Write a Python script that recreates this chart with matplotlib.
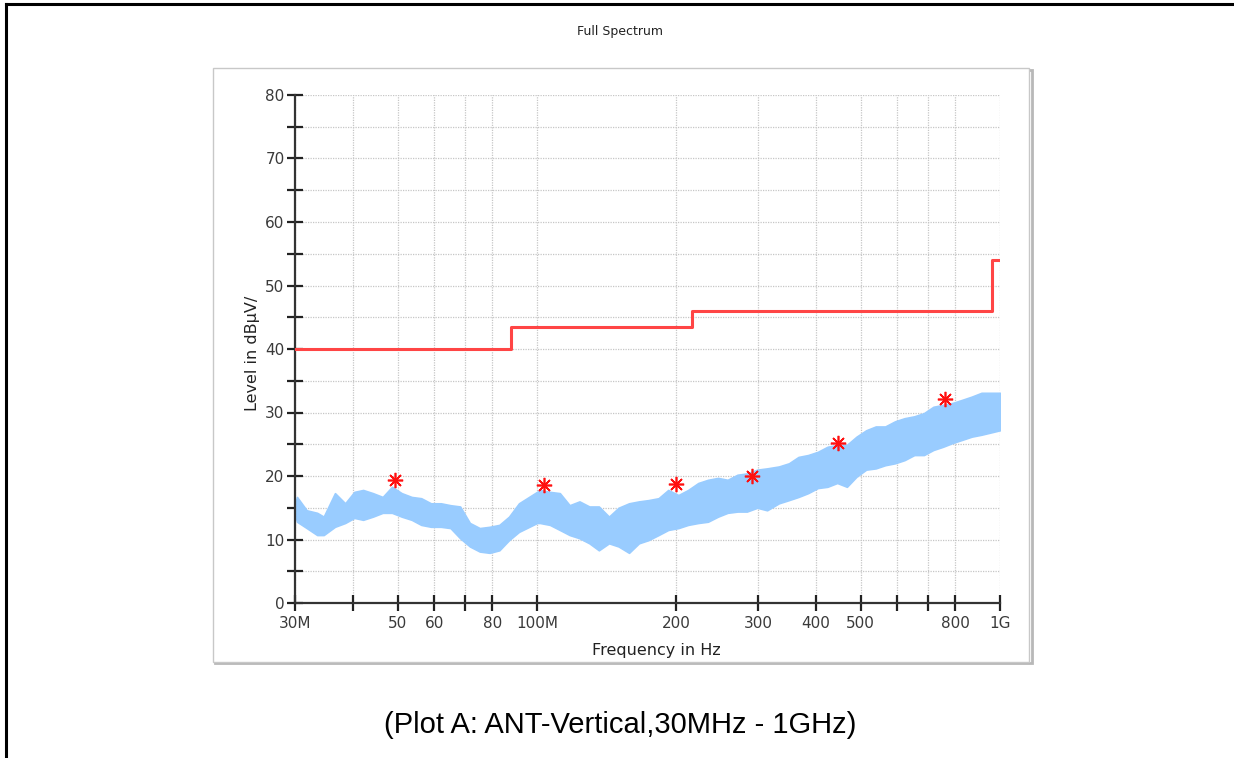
import matplotlib
matplotlib.use("Agg")
import matplotlib.pyplot as plt
from matplotlib.patches import Rectangle
from matplotlib.lines import Line2D
from matplotlib.ticker import FixedLocator, FixedFormatter, NullFormatter

# ---- data ----
freq_mhz = [30, 30.3, 31.8, 33.5, 34.6, 36.6, 38.5, 40.3, 42.1, 44.2, 46.4, 48.6, 51, 53.6,
            56.2, 59, 62, 65, 68.2, 71.6, 75.2, 79, 82.9, 87, 91.4, 100, 101.5, 106.6, 112,
            117.6, 123.5, 129.7, 136, 143, 150, 158, 166, 174, 183, 192, 202, 212, 223, 234,
            246, 258, 271, 284, 299, 314, 333, 350, 367, 385, 404, 424, 445, 467, 490, 514,
            539, 565, 593, 622, 653, 685, 718, 753, 790, 829, 869, 912, 1000]
upper_db = [15.5, 16.7, 14.6, 14.2, 13.6, 17.3, 15.7, 17.5, 17.8, 17.3, 16.7, 18.3, 17.3, 16.7,
            16.5, 15.7, 15.7, 15.4, 15.2, 12.6, 11.8, 12.0, 12.3, 13.6, 15.7, 17.5, 17.8, 17.5, 17.3,
            15.4, 16.0, 15.2, 15.2, 13.6, 15.0, 15.7, 16.0, 16.2, 16.5, 17.8, 17.0, 17.8, 18.9, 19.4,
            19.7, 19.4, 20.2, 20.4, 21.0, 21.2, 21.5, 22.0, 23.0, 23.3, 23.8, 24.6, 24.9, 24.9, 26.2, 27.2,
            27.8, 27.8, 28.6, 29.1, 29.4, 29.9, 30.9, 31.2, 31.5, 32.0, 32.5, 33.1, 33.1]
lower_db = [14.0, 12.8, 11.8, 10.7, 10.7, 12.0, 12.6, 13.4, 13.1, 13.6, 14.2, 14.2, 13.6, 13.1,
            12.3, 12.0, 12.0, 11.8, 10.2, 8.9, 8.1, 7.9, 8.3, 9.9, 11.2, 12.6, 12.6, 12.3, 11.5,
            10.7, 10.2, 9.4, 8.3, 9.4, 8.9, 7.9, 9.4, 9.9, 10.7, 11.5, 11.8, 12.3, 12.6, 12.8,
            13.6, 14.2, 14.4, 14.4, 15.0, 14.6, 15.7, 16.2, 16.7, 17.3, 18.1, 18.3, 18.9, 18.3, 19.9, 21.0,
            21.2, 21.7, 22.0, 22.5, 23.3, 23.3, 24.1, 24.6, 25.2, 25.7, 26.2, 26.5, 27.2]

limit_freq = [30, 88, 216, 960, 1000]
limit_db = [40, 43.5, 46, 54, 54]

peak_freq = [49.3, 103.6, 199.3, 291, 447, 762]
peak_db = [19.4, 18.6, 18.7, 20.0, 25.2, 32.1]

x_ticks = [30, 40, 50, 60, 70, 80, 100, 200, 300, 400, 500, 600, 700, 800, 1000]
x_tick_labels = ["30M", "", "50", "60", "", "80", "100M", "200", "300", "400", "500", "", "", "800", "1G"]
y_major = [0, 10, 20, 30, 40, 50, 60, 70, 80]
y_minor = [5, 15, 25, 35, 45, 55, 65, 75]

title = "Full Spectrum"
x_label = "Frequency in Hz"
y_label = "Level in dBμV/"
caption = "(Plot A: ANT-Vertical,30MHz - 1GHz)"

# ---- figure ----
W, H = 1234, 758
fig = plt.figure(figsize=(W / 100, H / 100), dpi=100)
fig.patch.set_facecolor("white")

def fx(px):
    return px / W

def fy(py):
    return 1 - py / H

# outer frame (top and left lines)
fig.add_artist(Line2D([fx(6), 1.0], [fy(4), fy(4)], color="black", lw=2.2, transform=fig.transFigure))
fig.add_artist(Line2D([fx(6), fx(6)], [fy(4), 0.0], color="black", lw=2.2, transform=fig.transFigure))

# gray plot panel
r1 = Rectangle((fx(215), fy(663)), fx(817), (663 - 70) / H, transform=fig.transFigure,
               facecolor="none", edgecolor="#B8B8B8", lw=2.0, zorder=-2)
r2 = Rectangle((fx(213), fy(662)), fx(816), (662 - 68) / H, transform=fig.transFigure,
               facecolor="white", edgecolor="#C8C8C8", lw=1.0, zorder=-1)
fig.add_artist(r1)
fig.add_artist(r2)

ax = fig.add_axes([fx(295), fy(603), fx(1000 - 295), (603 - 95) / H])
ax.set_zorder(3)
ax.patch.set_alpha(0)
ax.set_xscale("log")
ax.set_xlim(30, 1000)
ax.set_ylim(0, 80)

ax.fill_between(freq_mhz, lower_db, upper_db, color="#99CCFF", lw=1.2, edgecolor="#99CCFF", zorder=2)
ax.step(limit_freq, limit_db, where="post", color="#FF4545", lw=2.2, zorder=3)
ax.plot(peak_freq, peak_db, linestyle="none", marker=(8, 2, 0), markersize=11,
        markeredgewidth=1.2, color="#FF1010", zorder=4)

ax.xaxis.set_major_locator(FixedLocator(x_ticks))
ax.xaxis.set_major_formatter(FixedFormatter(x_tick_labels))
ax.xaxis.set_minor_locator(FixedLocator([]))
ax.xaxis.set_minor_formatter(NullFormatter())
ax.yaxis.set_major_locator(FixedLocator(y_major))
ax.yaxis.set_minor_locator(FixedLocator(y_minor))

ax.grid(True, which="both", linestyle=(0, (1, 1)), color="#C6C6C6", lw=0.9, zorder=1)
ax.set_axisbelow(True)

for s in ["top", "right"]:
    ax.spines[s].set_visible(False)
for s in ["left", "bottom"]:
    ax.spines[s].set_color("#333333")
    ax.spines[s].set_linewidth(1.6)

ax.tick_params(axis="both", which="both", direction="inout", length=11, width=1.6,
               color="#222222", labelcolor="#3A3A3A", labelsize=11)
ax.tick_params(axis="x", pad=4)
ax.tick_params(axis="y", pad=2)

fig.text(fx(656), fy(651), x_label, ha="center", va="center", fontsize=11.5, color="#222222")
fig.text(fx(252), fy(353), y_label, ha="center", va="center", rotation=90, fontsize=11.5, color="#222222")
fig.text(fx(620), fy(31), title, ha="center", va="center", fontsize=9, color="#222222")
fig.text(fx(620), fy(725), caption, ha="center", va="center", fontsize=21, color="black",
         family="Liberation Sans")

fig.savefig("out.png", dpi=100)
